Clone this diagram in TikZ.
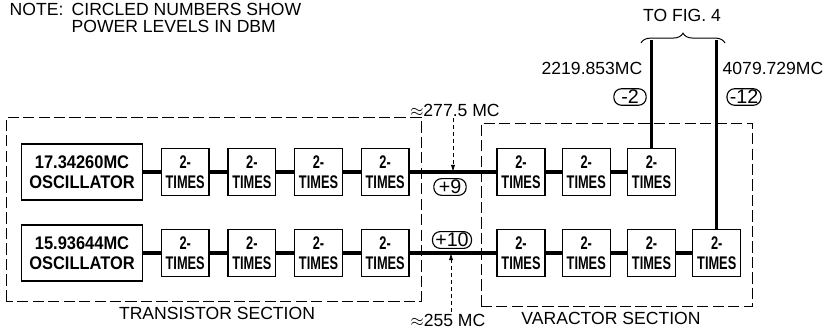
\documentclass[tikz,border=0pt]{standalone}
\usepackage{fontspec}
\setmainfont{Liberation Sans}
\newfontfamily\oscfont{Liberation Sans}[FakeStretch=0.9]
\newfontfamily\timesfont{Liberation Sans}[FakeStretch=0.7]
\usetikzlibrary{arrows.meta, positioning, decorations.pathreplacing}

\tikzset{
  oscbox/.style={draw, line width=0.9pt, minimum width=86pt, minimum height=40pt, inner sep=1pt,
    align=center, font=\oscfont\bfseries\fontsize{13}{14.5}\selectfont},
  dblbox/.style={draw, line width=0.9pt, minimum width=34pt, minimum height=33pt, inner sep=1pt,
    align=center, font=\timesfont\bfseries\fontsize{13}{14}\selectfont},
  feed/.style={line width=2.3pt},
  sectionbox/.style={line width=0.7pt, dash pattern=on 8pt off 3pt},
  probe/.style={-{Latex[length=5pt,width=3pt]}, line width=0.6pt, dash pattern=on 3pt off 2pt},
  dbm/.style={draw, line width=0.8pt, rounded corners=5.5pt, minimum width=23pt, inner xsep=2pt,
    inner ysep=1pt, font=\fontsize{14}{15}\selectfont},
  txt/.style={font=\fontsize{12.5}{12}\selectfont, inner sep=1pt}
}

\begin{document}
\begin{tikzpicture}[x=0.025cm, y=0.025cm]
  \useasboundingbox (0,0) rectangle (824,330);
  % note
  \node[txt, anchor=west] (note) at (8,321) {NOTE:};
  \node[txt, anchor=north west, align=left] (notetext) at (70,328) {CIRCLED NUMBERS SHOW\\POWER LEVELS IN DBM};
  % section outlines
  \draw[sectionbox] (6,29) rectangle (421,213);
  \draw[sectionbox] (481,24) rectangle (752,207);
  \node[txt] (trsec) at (217,17) {TRANSISTOR SECTION};
  \node[txt] (varsec) at (611,12) {VARACTOR SECTION};
  % upper chain
  \node[oscbox] (osc1) at (82,158) {17.34260MC\\OSCILLATOR};
  \foreach \i/\j in {1/osc1, 2/ta1, 3/ta2, 4/ta3}
    \node[dblbox, right=12.5pt of \j] (ta\i) {2-\\TIMES};
  \node[dblbox] (va1) at (521,158) {2-\\TIMES};
  \foreach \i/\j in {2/va1, 3/va2}
    \node[dblbox, right=11.5pt of \j] (va\i) {2-\\TIMES};
  \draw[feed] (osc1) -- (ta1) -- (ta2) -- (ta3) -- (ta4) -- (va1) -- (va2) -- (va3);
  % lower chain
  \node[oscbox] (osc2) at (82,77) {15.93644MC\\OSCILLATOR};
  \foreach \i/\j in {1/osc2, 2/tb1, 3/tb2, 4/tb3}
    \node[dblbox, right=12.5pt of \j] (tb\i) {2-\\TIMES};
  \node[dblbox] (vb1) at (521,77) {2-\\TIMES};
  \foreach \i/\j in {2/vb1, 3/vb2, 4/vb3}
    \node[dblbox, right=11.5pt of \j] (vb\i) {2-\\TIMES};
  \draw[feed] (osc2) -- (tb1) -- (tb2) -- (tb3) -- (tb4) -- (vb1) -- (vb2) -- (vb3) -- (vb4);
  % outputs to fig. 4
  \coordinate (fig4) at (682,290);
  \draw[feed] (va3) -- (va3.north |- fig4);
  \draw[feed] (vb4) -- (vb4.north |- fig4);
  \draw[line width=0.7pt, decorate, decoration={brace, amplitude=7pt}] (641,287) -- (725,287);
  \node[txt] (tofig) at (682,315) {TO FIG.~4};
  \node[txt, anchor=east] (f2219) at (644,262) {2219.853MC};
  \node[txt, anchor=west] (f4079) at (721,262) {4079.729MC};
  \node[dbm] (p2) at (630,233) {-2};
  \node[dbm] (p12) at (744,233) {-12};
  % frequencies between the sections
  \node[txt] (f277) at (455,220) {$\approx$277.5 MC};
  \coordinate (j1) at (453,158);
  \draw[probe] (f277.south -| j1) -- (j1);
  \node[dbm] (p9) at (450,143) {+9};
  \node[dbm] (p10) at (452,90) {+10};
  \node[txt] (f255) at (448,10) {$\approx$255 MC};
  \coordinate (j2) at (451,77);
  \draw[probe] (f255.north -| j2) -- (j2);
\end{tikzpicture}
\end{document}
